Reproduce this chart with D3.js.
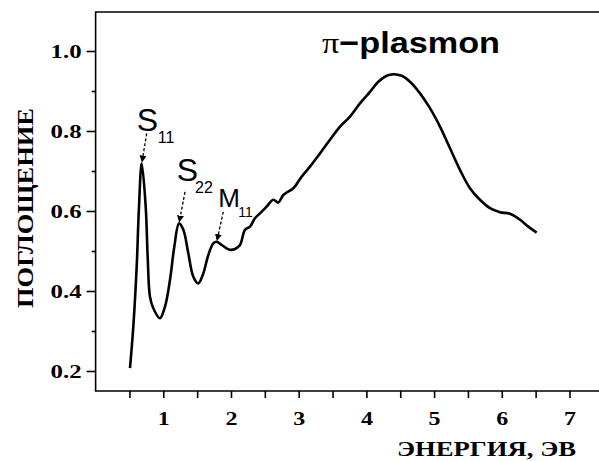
<!DOCTYPE html>
<html>
<head>
<meta charset="utf-8">
<script src="https://cdn.jsdelivr.net/npm/d3@7"></script>
<style>
  body { margin: 0; background: #fff; }
  svg { display: block; }
</style>
</head>
<body>
<svg id="chart"></svg>
<script>
let width = 599;
let height = 461;

// spectrum: energy (eV) and absorbance
let energy = [0.508, 0.557, 0.607, 0.641, 0.681, 0.740, 0.769, 0.803, 0.852, 0.951,
    1.025, 1.099, 1.163, 1.232, 1.296, 1.370, 1.443, 1.517, 1.591, 1.665,
    1.739, 1.789, 1.862, 1.985, 2.059, 2.133, 2.207, 2.281, 2.355, 2.428,
    2.527, 2.625, 2.699, 2.773, 2.921, 3.044, 3.167, 3.315, 3.462, 3.610,
    3.758, 3.905, 4.053, 4.176, 4.300, 4.398, 4.521, 4.644, 4.792, 4.939,
    5.087, 5.235, 5.382, 5.530, 5.678, 5.826, 5.973, 6.121, 6.269, 6.392, 6.515];
let absorb = [0.207, 0.311, 0.461, 0.611, 0.719, 0.611, 0.486, 0.386, 0.357, 0.332,
    0.361, 0.428, 0.511, 0.569, 0.553, 0.494, 0.436, 0.419, 0.444, 0.490,
    0.519, 0.523, 0.515, 0.503, 0.505, 0.515, 0.553, 0.561, 0.582, 0.594,
    0.611, 0.628, 0.621, 0.640, 0.657, 0.686, 0.711, 0.744, 0.778, 0.811,
    0.836, 0.869, 0.898, 0.923, 0.938, 0.942, 0.938, 0.923, 0.894, 0.857,
    0.811, 0.757, 0.703, 0.657, 0.628, 0.607, 0.597, 0.593, 0.578, 0.561, 0.546];

let xTicks = [1, 2, 3, 4, 5, 6, 7];
let xMinor = [0.5, 1.5, 2.5, 3.5, 4.5, 5.5, 6.5];
let yTicks = [0.2, 0.4, 0.6, 0.8, 1.0];
let yMinor = [0.3, 0.5, 0.7, 0.9];

// peak labels (letter + subscript) and the peak they point to
let peakName = ["S", "S", "M"];
let peakSub = ["11", "22", "11"];
let peakE = [0.681, 1.232, 1.789];
let peakV = [0.719, 0.569, 0.523];

let serif = "'Liberation Serif', 'DejaVu Serif', serif";
let sans = "'Liberation Sans', Arial, sans-serif";

let svg = d3.select("#chart")
    .attr("width", width)
    .attr("height", height);

let x = d3.scaleLinear().domain([0, 7.6]).range([95.6, 610.1]);
let y = d3.scaleLinear().domain([0.15, 1.0975]).range([391, 12]);

// frame: left, top and bottom edges (right edge is outside the picture)
svg.append("path")
    .attr("d", `M${x(7.6) + 10},${y(1.0975)}H${x(0)}V${y(0.15)}H${x(7.6) + 10}`)
    .attr("fill", "none")
    .attr("stroke", "black")
    .attr("stroke-width", 1.6);

// x axis
let gx = svg.append("g").attr("transform", `translate(0,${y(0.15)})`);
gx.append("g")
    .call(d3.axisBottom(x).tickValues(xTicks).tickSize(7).tickSizeOuter(0).tickPadding(14).tickFormat(d3.format("d")))
    .call(g => g.select(".domain").remove());
gx.append("g")
    .call(d3.axisBottom(x).tickValues(xMinor).tickSize(7).tickSizeOuter(0).tickFormat(""))
    .call(g => g.select(".domain").remove());
gx.selectAll("line").attr("stroke-width", 1.6);
gx.selectAll("text")
    .attr("font-family", serif)
    .attr("font-weight", "bold")
    .attr("font-size", 19)
    .attr("fill", "black")
    .attr("textLength", 12)
    .attr("lengthAdjust", "spacingAndGlyphs");

// y axis
let gy = svg.append("g").attr("transform", `translate(${x(0)},0)`);
gy.append("g")
    .call(d3.axisLeft(y).tickValues(yTicks).tickSize(9).tickSizeOuter(0).tickPadding(5).tickFormat(d3.format(".1f")))
    .call(g => g.select(".domain").remove());
gy.append("g")
    .call(d3.axisLeft(y).tickValues(yMinor).tickSize(4).tickSizeOuter(0).tickFormat(""))
    .call(g => g.select(".domain").remove());
gy.selectAll("line").attr("stroke-width", 1.6);
gy.selectAll("text")
    .attr("font-family", serif)
    .attr("font-weight", "bold")
    .attr("font-size", 19)
    .attr("fill", "black")
    .attr("textLength", 31)
    .attr("lengthAdjust", "spacingAndGlyphs");

// axis titles
svg.append("text")
    .attr("x", 397)
    .attr("y", 456)
    .attr("font-family", serif)
    .attr("font-weight", "bold")
    .attr("font-size", 20)
    .attr("textLength", 179)
    .attr("lengthAdjust", "spacingAndGlyphs")
    .text("ЭНЕРГИЯ, ЭВ");

svg.append("text")
    .attr("transform", "translate(33,208) rotate(-90)")
    .attr("text-anchor", "middle")
    .attr("font-family", serif)
    .attr("font-weight", "bold")
    .attr("font-size", 24)
    .attr("textLength", 200)
    .attr("lengthAdjust", "spacingAndGlyphs")
    .text("ПОГЛОЩЕНИЕ");

// spectrum
let points = energy.map((e, i) => [e, absorb[i]]);
let line = d3.line()
    .x(d => x(d[0]))
    .y(d => y(d[1]))
    .curve(d3.curveCatmullRom.alpha(0.5));

svg.append("path")
    .datum(points)
    .attr("d", line)
    .attr("fill", "none")
    .attr("stroke", "black")
    .attr("stroke-width", 2.6)
    .attr("stroke-linejoin", "round");

// pi-plasmon title
let title = svg.append("text")
    .attr("x", 322)
    .attr("y", 53)
    .attr("font-family", sans)
    .attr("font-weight", "bold")
    .attr("font-size", 30)
    .attr("textLength", 178)
    .attr("lengthAdjust", "spacingAndGlyphs");
title.append("tspan").attr("font-family", serif).attr("font-weight", "normal").text("π");
title.append("tspan").text("−plasmon");

// peak annotations with dashed arrows
svg.append("defs").append("marker")
    .attr("id", "arrow")
    .attr("viewBox", "0 0 10 10")
    .attr("refX", 9).attr("refY", 5)
    .attr("markerWidth", 7).attr("markerHeight", 7)
    .attr("markerUnits", "userSpaceOnUse")
    .attr("orient", "auto")
    .append("path")
    .attr("d", "M0,0L10,5L0,10Z")
    .attr("fill", "black");

// offsets in px from the peak: arrow start, letter, subscript
let arrowFrom = [[5, -30], [6, -31.5], [6.6, -30]];
let letterAt = [[-5, -32], [-2.3, -42], [1.6, -35]];
let letterSize = [32, 32, 26];
let subAt = [[16, -20], [16, -30], [21.6, -25]];
let subSize = [16, 16, 14];

peakName.forEach((name, i) => {
    let px = x(peakE[i]);
    let py = y(peakV[i]);
    svg.append("line")
        .attr("x1", px + arrowFrom[i][0]).attr("y1", py + arrowFrom[i][1])
        .attr("x2", px + 0.3).attr("y2", py - 1.5)
        .attr("stroke", "black")
        .attr("stroke-width", 1.3)
        .attr("stroke-dasharray", "3,2")
        .attr("marker-end", "url(#arrow)");
    svg.append("text")
        .attr("x", px + letterAt[i][0]).attr("y", py + letterAt[i][1])
        .attr("font-family", sans)
        .attr("font-size", letterSize[i])
        .text(name);
    svg.append("text")
        .attr("x", px + subAt[i][0]).attr("y", py + subAt[i][1])
        .attr("font-family", sans)
        .attr("font-size", subSize[i])
        .text(peakSub[i]);
});
</script>
</body>
</html>
